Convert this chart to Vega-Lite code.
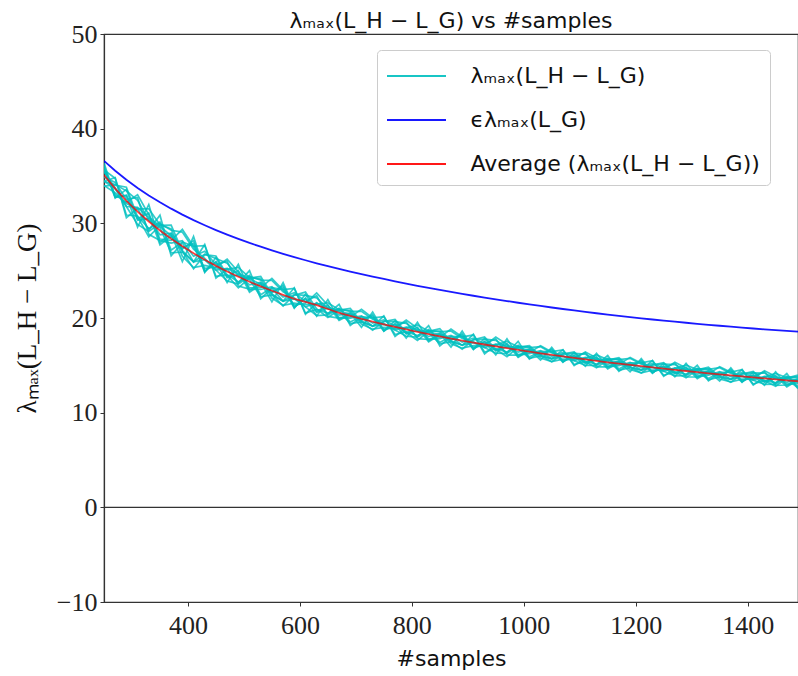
{
  "$schema": "https://vega.github.io/schema/vega-lite/v6.json",
  "width": 694,
  "height": 568,
  "autosize": "none",
  "padding": {"left": 104, "top": 34, "right": 0, "bottom": 74},
  "background": "white",
  "config": {
    "view": {"stroke": "#333333", "strokeWidth": 1.2},
    "axis": {
      "grid": false,
      "domainColor": "#333333",
      "domainWidth": 1.2,
      "tickColor": "#333333",
      "tickSize": 4,
      "labelFont": "Liberation Serif",
      "labelFontSize": 26,
      "labelColor": "#222222",
      "labelFlush": false,
      "titleFontWeight": "normal",
      "titleColor": "#111111"
    }
  },
  "title": {
    "text": "λₘₐₓ(L_H − L_G) vs #samples",
    "font": "DejaVu Sans",
    "fontSize": 22,
    "fontWeight": "normal",
    "color": "#111111",
    "anchor": "middle",
    "offset": -12
  },
  "data": {
    "values": [
      {"x": 250, "avg": 35.10, "eps": 36.60, "r1": 36.09, "r2": 34.44, "r3": 35.43, "r4": 34.00, "r5": 35.65, "r6": 34.88, "r7": 35.87, "r8": 34.44, "r9": 36.40, "r10": 34.45, "r11": 33.93, "r12": 35.62},
      {"x": 270, "avg": 33.66, "eps": 35.55, "r1": 32.78, "r2": 34.10, "r3": 33.77, "r4": 33.22, "r5": 34.76, "r6": 34.32, "r7": 32.67, "r8": 33.66, "r9": 32.75, "r10": 34.83, "r11": 34.05, "r12": 33.01},
      {"x": 290, "avg": 32.38, "eps": 34.60, "r1": 32.98, "r2": 33.43, "r3": 31.78, "r4": 32.08, "r5": 30.88, "r6": 32.53, "r7": 33.58, "r8": 31.78, "r9": 32.92, "r10": 30.58, "r11": 33.82, "r12": 32.20},
      {"x": 310, "avg": 31.23, "eps": 33.73, "r1": 30.48, "r2": 32.43, "r3": 29.88, "r4": 31.53, "r5": 30.78, "r6": 32.73, "r7": 30.33, "r8": 31.68, "r9": 29.61, "r10": 31.59, "r11": 30.69, "r12": 33.03},
      {"x": 330, "avg": 30.19, "eps": 32.94, "r1": 31.09, "r2": 30.34, "r3": 29.14, "r4": 31.54, "r5": 29.44, "r6": 28.84, "r7": 30.49, "r8": 30.64, "r9": 31.99, "r10": 29.29, "r11": 28.57, "r12": 30.91},
      {"x": 350, "avg": 29.24, "eps": 32.22, "r1": 27.74, "r2": 29.54, "r3": 29.99, "r4": 29.84, "r5": 30.14, "r6": 28.19, "r7": 28.79, "r8": 29.69, "r9": 27.98, "r10": 30.86, "r11": 29.78, "r12": 28.34},
      {"x": 370, "avg": 28.37, "eps": 31.55, "r1": 28.67, "r2": 26.87, "r3": 29.27, "r4": 29.42, "r5": 27.17, "r6": 27.92, "r7": 28.97, "r8": 28.67, "r9": 28.91, "r10": 26.57, "r11": 29.81, "r12": 28.19},
      {"x": 390, "avg": 27.57, "eps": 30.92, "r1": 27.27, "r2": 26.97, "r3": 29.07, "r4": 26.52, "r5": 28.02, "r6": 28.17, "r7": 27.42, "r8": 27.12, "r9": 25.95, "r10": 27.93, "r11": 27.03, "r12": 29.37},
      {"x": 410, "avg": 26.83, "eps": 30.34, "r1": 28.18, "r2": 25.93, "r3": 27.28, "r4": 25.33, "r5": 27.58, "r6": 26.53, "r7": 27.88, "r8": 25.93, "r9": 28.63, "r10": 25.93, "r11": 25.21, "r12": 27.55},
      {"x": 430, "avg": 26.15, "eps": 29.80, "r1": 24.95, "r2": 26.75, "r3": 26.30, "r4": 25.55, "r5": 27.65, "r6": 27.05, "r7": 24.80, "r8": 26.15, "r9": 24.89, "r10": 27.77, "r11": 26.69, "r12": 25.25},
      {"x": 450, "avg": 25.51, "eps": 29.29, "r1": 25.95, "r2": 26.28, "r3": 25.07, "r4": 25.29, "r5": 24.41, "r6": 25.62, "r7": 26.39, "r8": 25.07, "r9": 25.90, "r10": 24.21, "r11": 26.55, "r12": 25.38},
      {"x": 470, "avg": 24.91, "eps": 28.81, "r1": 24.36, "r2": 25.79, "r3": 23.92, "r4": 25.13, "r5": 24.58, "r6": 26.01, "r7": 24.25, "r8": 25.24, "r9": 23.74, "r10": 25.17, "r11": 24.52, "r12": 26.21},
      {"x": 490, "avg": 24.36, "eps": 28.36, "r1": 25.02, "r2": 24.47, "r3": 23.59, "r4": 25.35, "r5": 23.81, "r6": 23.37, "r7": 24.58, "r8": 24.69, "r9": 25.66, "r10": 23.71, "r11": 23.19, "r12": 24.88},
      {"x": 510, "avg": 23.83, "eps": 27.93, "r1": 22.73, "r2": 24.05, "r3": 24.38, "r4": 24.27, "r5": 24.49, "r6": 23.06, "r7": 23.50, "r8": 24.16, "r9": 22.92, "r10": 25.00, "r11": 24.22, "r12": 23.18},
      {"x": 530, "avg": 23.34, "eps": 27.53, "r1": 23.56, "r2": 22.24, "r3": 24.00, "r4": 24.11, "r5": 22.46, "r6": 23.01, "r7": 23.78, "r8": 23.56, "r9": 23.73, "r10": 22.04, "r11": 24.38, "r12": 23.21},
      {"x": 550, "avg": 22.88, "eps": 27.15, "r1": 22.66, "r2": 22.44, "r3": 23.98, "r4": 22.11, "r5": 23.21, "r6": 23.32, "r7": 22.77, "r8": 22.55, "r9": 21.71, "r10": 23.14, "r11": 22.49, "r12": 24.18},
      {"x": 570, "avg": 22.44, "eps": 26.78, "r1": 23.43, "r2": 21.78, "r3": 22.77, "r4": 21.34, "r5": 22.99, "r6": 22.22, "r7": 23.21, "r8": 21.78, "r9": 23.74, "r10": 21.79, "r11": 21.27, "r12": 22.96},
      {"x": 590, "avg": 22.02, "eps": 26.43, "r1": 21.14, "r2": 22.46, "r3": 22.13, "r4": 21.58, "r5": 23.12, "r6": 22.68, "r7": 21.03, "r8": 22.02, "r9": 21.11, "r10": 23.19, "r11": 22.41, "r12": 21.37},
      {"x": 610, "avg": 21.70, "eps": 26.10, "r1": 22.06, "r2": 22.39, "r3": 21.18, "r4": 21.40, "r5": 20.52, "r6": 21.73, "r7": 22.50, "r8": 21.18, "r9": 22.09, "r10": 20.40, "r11": 22.74, "r12": 21.57},
      {"x": 630, "avg": 21.35, "eps": 25.78, "r1": 20.70, "r2": 22.13, "r3": 20.26, "r4": 21.47, "r5": 20.92, "r6": 22.35, "r7": 20.59, "r8": 21.58, "r9": 20.18, "r10": 21.61, "r11": 20.96, "r12": 22.65},
      {"x": 650, "avg": 20.95, "eps": 25.48, "r1": 21.37, "r2": 20.97, "r3": 20.33, "r4": 21.61, "r5": 20.49, "r6": 20.17, "r7": 21.05, "r8": 21.13, "r9": 21.95, "r10": 20.45, "r11": 20.05, "r12": 21.35},
      {"x": 670, "avg": 20.55, "eps": 25.19, "r1": 19.75, "r2": 20.71, "r3": 20.95, "r4": 20.87, "r5": 21.03, "r6": 19.99, "r7": 20.31, "r8": 20.79, "r9": 19.85, "r10": 21.45, "r11": 20.85, "r12": 20.05},
      {"x": 690, "avg": 20.22, "eps": 24.91, "r1": 20.38, "r2": 19.42, "r3": 20.70, "r4": 20.78, "r5": 19.58, "r6": 19.98, "r7": 20.54, "r8": 20.38, "r9": 20.52, "r10": 19.22, "r11": 21.02, "r12": 20.12},
      {"x": 710, "avg": 19.91, "eps": 24.64, "r1": 19.75, "r2": 19.59, "r3": 20.71, "r4": 19.35, "r5": 20.15, "r6": 20.23, "r7": 19.83, "r8": 19.67, "r9": 19.01, "r10": 20.11, "r11": 19.61, "r12": 20.91},
      {"x": 730, "avg": 19.62, "eps": 24.38, "r1": 20.34, "r2": 19.14, "r3": 19.86, "r4": 18.82, "r5": 20.02, "r6": 19.46, "r7": 20.18, "r8": 19.14, "r9": 20.62, "r10": 19.12, "r11": 18.72, "r12": 20.02},
      {"x": 750, "avg": 19.33, "eps": 24.13, "r1": 18.69, "r2": 19.65, "r3": 19.41, "r4": 19.01, "r5": 20.13, "r6": 19.81, "r7": 18.61, "r8": 19.33, "r9": 18.63, "r10": 20.23, "r11": 19.63, "r12": 18.83},
      {"x": 770, "avg": 19.06, "eps": 23.88, "r1": 19.38, "r2": 19.62, "r3": 18.74, "r4": 18.90, "r5": 18.26, "r6": 19.14, "r7": 19.70, "r8": 18.74, "r9": 19.36, "r10": 18.06, "r11": 19.86, "r12": 18.96},
      {"x": 790, "avg": 18.79, "eps": 23.63, "r1": 18.39, "r2": 19.43, "r3": 18.07, "r4": 18.95, "r5": 18.55, "r6": 19.59, "r7": 18.31, "r8": 19.03, "r9": 17.89, "r10": 18.99, "r11": 18.49, "r12": 19.79},
      {"x": 810, "avg": 18.54, "eps": 23.40, "r1": 19.02, "r2": 18.62, "r3": 17.98, "r4": 19.26, "r5": 18.14, "r6": 17.82, "r7": 18.70, "r8": 18.78, "r9": 19.54, "r10": 18.04, "r11": 17.64, "r12": 18.94},
      {"x": 830, "avg": 18.29, "eps": 23.18, "r1": 17.49, "r2": 18.45, "r3": 18.69, "r4": 18.61, "r5": 18.77, "r6": 17.73, "r7": 18.05, "r8": 18.53, "r9": 17.59, "r10": 19.19, "r11": 18.59, "r12": 17.79},
      {"x": 850, "avg": 18.06, "eps": 22.96, "r1": 18.22, "r2": 17.26, "r3": 18.54, "r4": 18.62, "r5": 17.42, "r6": 17.82, "r7": 18.38, "r8": 18.22, "r9": 18.36, "r10": 17.06, "r11": 18.86, "r12": 17.96},
      {"x": 870, "avg": 17.83, "eps": 22.75, "r1": 17.67, "r2": 17.51, "r3": 18.63, "r4": 17.27, "r5": 18.07, "r6": 18.15, "r7": 17.75, "r8": 17.59, "r9": 16.93, "r10": 18.03, "r11": 17.53, "r12": 18.83},
      {"x": 890, "avg": 17.61, "eps": 22.55, "r1": 18.33, "r2": 17.13, "r3": 17.85, "r4": 16.81, "r5": 18.01, "r6": 17.45, "r7": 18.17, "r8": 17.13, "r9": 18.61, "r10": 17.11, "r11": 16.71, "r12": 18.01},
      {"x": 910, "avg": 17.40, "eps": 22.35, "r1": 16.76, "r2": 17.72, "r3": 17.48, "r4": 17.08, "r5": 18.20, "r6": 17.88, "r7": 16.68, "r8": 17.40, "r9": 16.70, "r10": 18.30, "r11": 17.70, "r12": 16.90},
      {"x": 930, "avg": 17.20, "eps": 22.16, "r1": 17.52, "r2": 17.76, "r3": 16.88, "r4": 17.04, "r5": 16.40, "r6": 17.28, "r7": 17.84, "r8": 16.88, "r9": 17.50, "r10": 16.20, "r11": 18.00, "r12": 17.10},
      {"x": 950, "avg": 17.00, "eps": 21.97, "r1": 16.60, "r2": 17.64, "r3": 16.28, "r4": 17.16, "r5": 16.76, "r6": 17.80, "r7": 16.52, "r8": 17.24, "r9": 16.10, "r10": 17.20, "r11": 16.70, "r12": 18.00},
      {"x": 970, "avg": 16.81, "eps": 21.79, "r1": 17.29, "r2": 16.89, "r3": 16.25, "r4": 17.53, "r5": 16.41, "r6": 16.09, "r7": 16.97, "r8": 17.05, "r9": 17.81, "r10": 16.31, "r11": 15.91, "r12": 17.21},
      {"x": 990, "avg": 16.63, "eps": 21.61, "r1": 15.83, "r2": 16.79, "r3": 17.03, "r4": 16.95, "r5": 17.11, "r6": 16.07, "r7": 16.39, "r8": 16.87, "r9": 15.93, "r10": 17.53, "r11": 16.93, "r12": 16.13},
      {"x": 1010, "avg": 16.45, "eps": 21.44, "r1": 16.59, "r2": 15.75, "r3": 16.87, "r4": 16.94, "r5": 15.89, "r6": 16.24, "r7": 16.73, "r8": 16.59, "r9": 16.69, "r10": 15.65, "r11": 17.09, "r12": 16.37},
      {"x": 1030, "avg": 16.27, "eps": 21.27, "r1": 16.13, "r2": 15.99, "r3": 16.97, "r4": 15.78, "r5": 16.48, "r6": 16.55, "r7": 16.20, "r8": 16.06, "r9": 15.55, "r10": 16.43, "r11": 16.03, "r12": 17.07},
      {"x": 1050, "avg": 16.10, "eps": 21.11, "r1": 16.73, "r2": 15.68, "r3": 16.31, "r4": 15.40, "r5": 16.45, "r6": 15.96, "r7": 16.59, "r8": 15.68, "r9": 16.90, "r10": 15.70, "r11": 15.38, "r12": 16.42},
      {"x": 1070, "avg": 15.94, "eps": 20.95, "r1": 15.38, "r2": 16.22, "r3": 16.01, "r4": 15.66, "r5": 16.64, "r6": 16.36, "r7": 15.31, "r8": 15.94, "r9": 15.38, "r10": 16.66, "r11": 16.18, "r12": 15.54},
      {"x": 1090, "avg": 15.78, "eps": 20.80, "r1": 16.06, "r2": 16.27, "r3": 15.50, "r4": 15.64, "r5": 15.08, "r6": 15.85, "r7": 16.34, "r8": 15.50, "r9": 16.02, "r10": 14.98, "r11": 16.42, "r12": 15.70},
      {"x": 1110, "avg": 15.62, "eps": 20.65, "r1": 15.27, "r2": 16.18, "r3": 14.99, "r4": 15.76, "r5": 15.41, "r6": 16.32, "r7": 15.20, "r8": 15.83, "r9": 14.90, "r10": 15.78, "r11": 15.38, "r12": 16.42},
      {"x": 1130, "avg": 15.47, "eps": 20.50, "r1": 15.89, "r2": 15.54, "r3": 14.98, "r4": 16.10, "r5": 15.12, "r6": 14.84, "r7": 15.61, "r8": 15.68, "r9": 16.27, "r10": 15.07, "r11": 14.75, "r12": 15.79},
      {"x": 1150, "avg": 15.32, "eps": 20.36, "r1": 14.62, "r2": 15.46, "r3": 15.67, "r4": 15.60, "r5": 15.74, "r6": 14.83, "r7": 15.11, "r8": 15.53, "r9": 14.76, "r10": 16.04, "r11": 15.56, "r12": 14.92},
      {"x": 1170, "avg": 15.18, "eps": 20.22, "r1": 15.32, "r2": 14.48, "r3": 15.60, "r4": 15.67, "r5": 14.62, "r6": 14.97, "r7": 15.46, "r8": 15.32, "r9": 15.42, "r10": 14.38, "r11": 15.82, "r12": 15.10},
      {"x": 1190, "avg": 15.04, "eps": 20.09, "r1": 14.90, "r2": 14.76, "r3": 15.74, "r4": 14.55, "r5": 15.25, "r6": 15.32, "r7": 14.97, "r8": 14.83, "r9": 14.32, "r10": 15.20, "r11": 14.80, "r12": 15.84},
      {"x": 1210, "avg": 14.91, "eps": 19.96, "r1": 15.54, "r2": 14.49, "r3": 15.12, "r4": 14.21, "r5": 15.26, "r6": 14.77, "r7": 15.40, "r8": 14.49, "r9": 15.71, "r10": 14.51, "r11": 14.19, "r12": 15.23},
      {"x": 1230, "avg": 14.78, "eps": 19.84, "r1": 14.22, "r2": 15.06, "r3": 14.85, "r4": 14.50, "r5": 15.48, "r6": 15.20, "r7": 14.15, "r8": 14.78, "r9": 14.22, "r10": 15.50, "r11": 15.02, "r12": 14.38},
      {"x": 1250, "avg": 14.65, "eps": 19.72, "r1": 14.93, "r2": 15.14, "r3": 14.37, "r4": 14.51, "r5": 13.95, "r6": 14.72, "r7": 15.21, "r8": 14.37, "r9": 14.89, "r10": 13.85, "r11": 15.29, "r12": 14.57},
      {"x": 1270, "avg": 14.52, "eps": 19.61, "r1": 14.17, "r2": 15.08, "r3": 13.89, "r4": 14.66, "r5": 14.31, "r6": 15.22, "r7": 14.10, "r8": 14.73, "r9": 13.80, "r10": 14.68, "r11": 14.28, "r12": 15.32},
      {"x": 1290, "avg": 14.40, "eps": 19.50, "r1": 14.82, "r2": 14.47, "r3": 13.91, "r4": 15.03, "r5": 14.05, "r6": 13.77, "r7": 14.54, "r8": 14.61, "r9": 15.20, "r10": 14.00, "r11": 13.68, "r12": 14.72},
      {"x": 1310, "avg": 14.28, "eps": 19.39, "r1": 13.58, "r2": 14.42, "r3": 14.63, "r4": 14.56, "r5": 14.70, "r6": 13.79, "r7": 14.07, "r8": 14.49, "r9": 13.72, "r10": 15.00, "r11": 14.52, "r12": 13.88},
      {"x": 1330, "avg": 14.16, "eps": 19.28, "r1": 14.30, "r2": 13.46, "r3": 14.58, "r4": 14.65, "r5": 13.60, "r6": 13.95, "r7": 14.44, "r8": 14.30, "r9": 14.40, "r10": 13.36, "r11": 14.80, "r12": 14.08},
      {"x": 1350, "avg": 14.05, "eps": 19.18, "r1": 13.91, "r2": 13.77, "r3": 14.75, "r4": 13.56, "r5": 14.26, "r6": 14.33, "r7": 13.98, "r8": 13.84, "r9": 13.33, "r10": 14.21, "r11": 13.81, "r12": 14.85},
      {"x": 1370, "avg": 13.94, "eps": 19.08, "r1": 14.57, "r2": 13.52, "r3": 14.15, "r4": 13.24, "r5": 14.29, "r6": 13.80, "r7": 14.43, "r8": 13.52, "r9": 14.74, "r10": 13.54, "r11": 13.22, "r12": 14.26},
      {"x": 1390, "avg": 13.83, "eps": 18.98, "r1": 13.27, "r2": 14.11, "r3": 13.90, "r4": 13.55, "r5": 14.53, "r6": 14.25, "r7": 13.20, "r8": 13.83, "r9": 13.27, "r10": 14.55, "r11": 14.07, "r12": 13.43},
      {"x": 1410, "avg": 13.72, "eps": 18.89, "r1": 14.00, "r2": 14.21, "r3": 13.44, "r4": 13.58, "r5": 13.02, "r6": 13.79, "r7": 14.28, "r8": 13.44, "r9": 13.96, "r10": 12.92, "r11": 14.36, "r12": 13.64},
      {"x": 1430, "avg": 13.62, "eps": 18.80, "r1": 13.27, "r2": 14.18, "r3": 12.99, "r4": 13.76, "r5": 13.41, "r6": 14.32, "r7": 13.20, "r8": 13.83, "r9": 12.90, "r10": 13.78, "r11": 13.38, "r12": 14.42},
      {"x": 1450, "avg": 13.51, "eps": 18.71, "r1": 13.93, "r2": 13.58, "r3": 13.02, "r4": 14.14, "r5": 13.16, "r6": 12.88, "r7": 13.65, "r8": 13.72, "r9": 14.31, "r10": 13.11, "r11": 12.79, "r12": 13.83},
      {"x": 1470, "avg": 13.41, "eps": 18.63, "r1": 12.71, "r2": 13.55, "r3": 13.76, "r4": 13.69, "r5": 13.83, "r6": 12.92, "r7": 13.20, "r8": 13.62, "r9": 12.85, "r10": 14.13, "r11": 13.65, "r12": 13.01},
      {"x": 1490, "avg": 13.32, "eps": 18.55, "r1": 13.46, "r2": 12.62, "r3": 13.74, "r4": 13.81, "r5": 12.76, "r6": 13.11, "r7": 13.60, "r8": 13.46, "r9": 13.56, "r10": 12.52, "r11": 13.96, "r12": 13.24}
    ]
  },
  "layer": [
    {
      "data": {"values": [{"z": 0}]},
      "mark": {"type": "rule", "color": "#333333", "strokeWidth": 1.2},
      "encoding": {
        "y": {"field": "z", "type": "quantitative", "title": "λₘₐₓ(L_H − L_G)",
              "scale": {"domain": [-10, 50], "nice": false, "zero": false}}
      }
    },
    {
      "transform": [{"fold": ["r1", "r2", "r3", "r4", "r5", "r6", "r7", "r8", "r9", "r10", "r11", "r12"], "as": ["run", "val"]}],
      "mark": {"type": "line", "strokeWidth": 1.7, "opacity": 0.8, "clip": true},
      "encoding": {
        "x": {"field": "x", "type": "quantitative", "title": "#samples",
              "scale": {"domain": [250, 1490], "nice": false, "zero": false},
              "axis": {"values": [400, 600, 800, 1000, 1200, 1400], "format": "d", "labelPadding": 6,
                       "titleFont": "DejaVu Sans", "titleFontSize": 22, "titlePadding": 10}},
        "y": {"field": "val", "type": "quantitative", "title": "λₘₐₓ(L_H − L_G)",
              "scale": {"domain": [-10, 50], "nice": false, "zero": false},
              "axis": {"values": [-10, 0, 10, 20, 30, 40, 50], "format": "d", "labelPadding": 3,
                       "titleFont": "Liberation Serif", "titleFontSize": 27, "titlePadding": 15}},
        "detail": {"field": "run", "type": "nominal"},
        "color": {
          "datum": "λₘₐₓ(L_H − L_G)",
          "type": "nominal",
          "scale": {
            "domain": ["λₘₐₓ(L_H − L_G)", "ϵλₘₐₓ(L_G)", "Average (λₘₐₓ(L_H − L_G))"],
            "range": ["#00bfbf", "#0000ff", "#ff0000"]
          },
          "legend": {
            "orient": "none",
            "legendX": 273,
            "legendY": 16,
            "direction": "vertical",
            "title": null,
            "symbolType": "M-2,0H2",
            "symbolSize": 870,
            "symbolStrokeWidth": 2,
            "symbolOffset": 13.5,
            "symbolOpacity": 0.8,
            "labelOffset": 38,
            "labelFont": "DejaVu Sans",
            "labelFontSize": 22,
            "labelColor": "#111111",
            "labelLimit": 500,
            "rowPadding": 17,
            "padding": 10,
            "fillColor": "rgba(255,255,255,0.85)",
            "strokeColor": "#cccccc",
            "cornerRadius": 4
          }
        }
      }
    },
    {
      "mark": {"type": "line", "strokeWidth": 1.8, "opacity": 0.9, "clip": true},
      "encoding": {
        "x": {"field": "x", "type": "quantitative", "title": "#samples"},
        "y": {"field": "eps", "type": "quantitative", "title": "λₘₐₓ(L_H − L_G)"},
        "color": {"datum": "ϵλₘₐₓ(L_G)", "type": "nominal"}
      }
    },
    {
      "mark": {"type": "line", "strokeWidth": 1.8, "opacity": 0.75, "clip": true},
      "encoding": {
        "x": {"field": "x", "type": "quantitative", "title": "#samples"},
        "y": {"field": "avg", "type": "quantitative", "title": "λₘₐₓ(L_H − L_G)"},
        "color": {"datum": "Average (λₘₐₓ(L_H − L_G))", "type": "nominal"}
      }
    }
  ]
}
